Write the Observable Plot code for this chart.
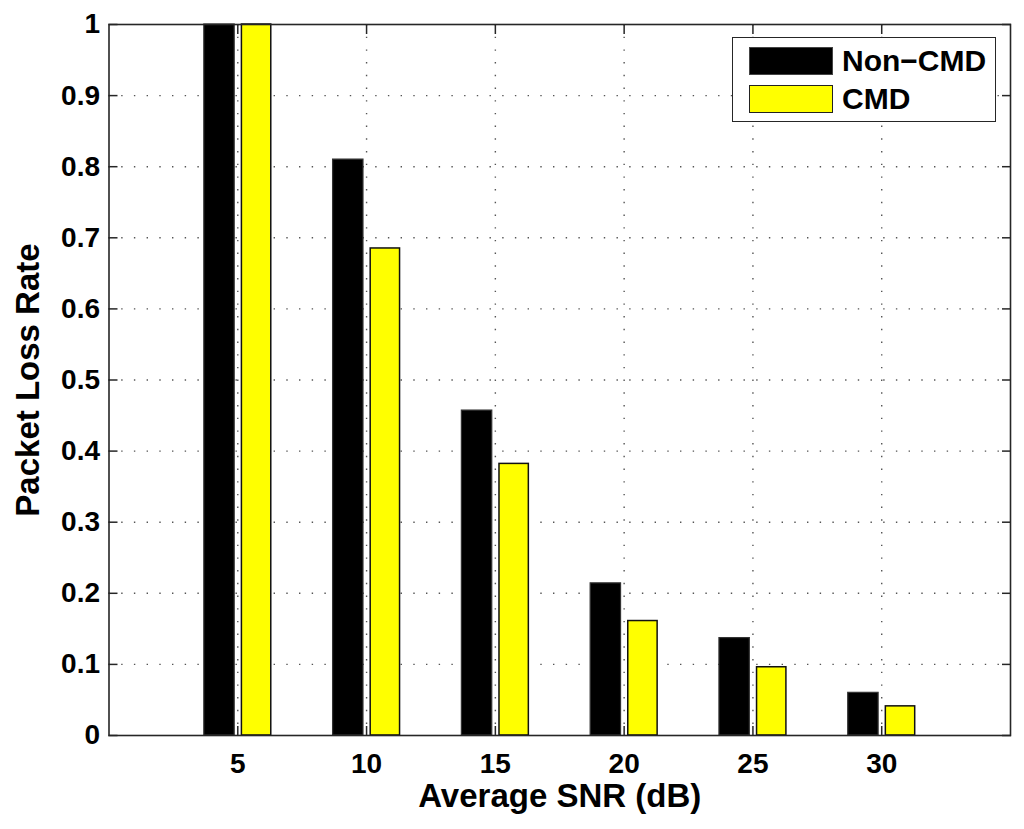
<!DOCTYPE html>
<html>
<head>
<meta charset="utf-8">
<script src="https://cdn.jsdelivr.net/npm/d3@7"></script>
<script src="https://cdn.jsdelivr.net/npm/@observablehq/plot@0.6"></script>
<style>
  html, body { margin: 0; padding: 0; background: #fff; }
  #wrap { position: relative; width: 1024px; height: 829px; font-family: "Liberation Sans", Arial, Helvetica, sans-serif; font-weight: bold; }
  #legend { position: absolute; left: 732px; top: 37px; width: 262px; height: 83px; background: #fff; border: 1.5px solid #262626; }
  .row { position: absolute; left: 16px; display: flex; align-items: center; }
  .sw { width: 82px; height: 26px; border: 1.5px solid #222; box-sizing: content-box; }
  .lab { margin-left: 9px; font-size: 30px; line-height: 30px; color: #000; }
</style>
</head>
<body>
<div id="wrap"></div>
<script>
const snr = [5, 10, 15, 20, 25, 30];
const nonCmd = [1.0, 0.810, 0.457, 0.214, 0.137, 0.060];
const cmd = [1.0, 0.685, 0.382, 0.161, 0.096, 0.041];
const seriesNames = ["Non\u2212CMD", "CMD"];
const seriesColors = ["#000000", "#ffff00"];
const xTicks = [5, 10, 15, 20, 25, 30];
const yTicks = [0, 0.1, 0.2, 0.3, 0.4, 0.5, 0.6, 0.7, 0.8, 0.9, 1];
const xLabel = "Average SNR (dB)";
const yLabel = "Packet Loss Rate";

const rowsA = snr.map((s, i) => ({snr: s, value: nonCmd[i], series: seriesNames[0]}));
const rowsB = snr.map((s, i) => ({snr: s, value: cmd[i], series: seriesNames[1]}));

const dot = {stroke: "#555", strokeWidth: 1.4, strokeDasharray: "1.4,11.3"};
const axisStroke = "#262626";

const chart = Plot.plot({
  width: 1024,
  height: 829,
  marginLeft: 108.5,
  marginRight: 14,
  marginTop: 24,
  marginBottom: 94,
  style: {fontFamily: "'Liberation Sans', Arial, Helvetica, sans-serif", fontWeight: "bold", color: "#000", background: "#fff"},
  x: {type: "linear", domain: [0, 35]},
  y: {domain: [0, 1]},
  marks: [
    Plot.ruleY(yTicks.slice(1, -1), {y: d => d, ...dot}),
    Plot.ruleX(xTicks, {x: d => d, ...dot}),
    Plot.rectY(rowsA, {x1: d => d.snr - 1.30, x2: d => d.snr - 0.12, y1: 0, y2: "value", fill: seriesColors[0], stroke: "#333", strokeWidth: 1.2}),
    Plot.rectY(rowsB, {x1: d => d.snr + 0.16, x2: d => d.snr + 1.30, y1: 0, y2: "value", fill: seriesColors[1], stroke: "#111", strokeWidth: 1.5}),
    Plot.frame({stroke: axisStroke, strokeWidth: 1.6}),
    Plot.axisX(xTicks, {anchor: "bottom", tickSize: -9, tickPadding: 27, fontSize: 28, stroke: axisStroke, strokeWidth: 1.5,
      label: xLabel, labelArrow: "none", labelAnchor: "center", labelOffset: 71, tickFormat: d => String(d)}),
    Plot.axisX(xTicks, {anchor: "top", tickSize: -9, stroke: axisStroke, strokeWidth: 1.5, label: null, tickFormat: () => ""}),
    Plot.axisY(yTicks, {anchor: "left", tickSize: -9, tickPadding: 18, fontSize: 28, stroke: axisStroke, strokeWidth: 1.5,
      label: yLabel, labelArrow: "none", labelAnchor: "center", labelOffset: 93, tickFormat: d => String(d)}),
    Plot.axisY(yTicks, {anchor: "right", tickSize: -9, stroke: axisStroke, strokeWidth: 1.5, label: null, tickFormat: () => ""})
  ]
});

// axis titles are larger than tick labels
chart.querySelectorAll('g[aria-label="x-axis label"] text, g[aria-label="y-axis label"] text').forEach(t => {
  t.setAttribute("font-size", "33");
  t.textContent = t.textContent.replace(/\s*[→↑←↓]\s*/g, "");
});
chart.querySelectorAll('g[aria-label="x-axis label"], g[aria-label="y-axis label"]').forEach(g => g.setAttribute("font-size", "33"));

const wrap = document.getElementById("wrap");
wrap.appendChild(chart);

const legend = document.createElement("div");
legend.id = "legend";
seriesNames.forEach((name, i) => {
  const row = document.createElement("div");
  row.className = "row";
  row.style.top = (i === 0 ? 8 : 46) + "px";
  const sw = document.createElement("div");
  sw.className = "sw";
  sw.style.background = seriesColors[i];
  if (i === 0) sw.style.borderColor = "#444";
  const lab = document.createElement("span");
  lab.className = "lab";
  lab.textContent = name;
  row.appendChild(sw);
  row.appendChild(lab);
  legend.appendChild(row);
});
wrap.appendChild(legend);
</script>
</body>
</html>
